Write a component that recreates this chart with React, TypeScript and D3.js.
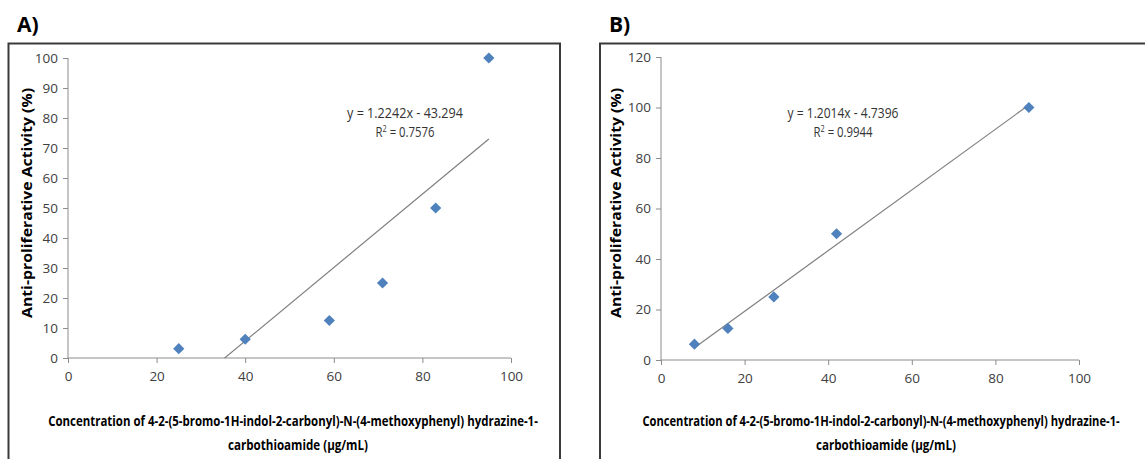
import React, { useEffect, useRef } from 'react';
import * as d3 from 'd3';

// panel A
const concA = [25, 40, 59, 71, 83, 95];
const activityA = [3.125, 6.25, 12.5, 25, 50, 100];
const fitA = { slope: 1.2242, intercept: -43.294, r2: '0.7576' };
const yTicksA = [0, 10, 20, 30, 40, 50, 60, 70, 80, 90, 100];

// panel B
const concB = [8, 16, 27, 42, 88];
const activityB = [6.25, 12.5, 25, 50, 100];
const fitB = { slope: 1.2014, intercept: -4.7396, r2: '0.9944' };
const yTicksB = [0, 20, 40, 60, 80, 100, 120];

const xTicks = [0, 20, 40, 60, 80, 100];

const yLabel = 'Anti-proliferative Activity (%)';
const xLabel1 = 'Concentration of 4-2-(5-bromo-1H-indol-2-carbonyl)-N-(4-methoxyphenyl) hydrazine-1-';
const xLabel2 = 'carbothioamide (µg/mL)';

const font = "'Open Sans', sans-serif";

// squeeze a centred text horizontally to a given width (Calibri-like look)
function condensed(sel, cx, y, width) {
  const len = sel.node().getComputedTextLength();
  const k = len > 0 ? width / len : 1;
  sel.attr('text-anchor', 'middle')
    .attr('transform', `translate(${cx},${y}) scale(${k},1)`);
  return sel;
}

const App = () => {
  const ref = useRef(null);

  useEffect(() => {
    const svg = d3.select(ref.current);
    svg.selectAll('*').remove();

    const panels = [
      {
        id: 'A', title: 'A)', titleX: 17, box: [8.5, 560],
        x: d3.scaleLinear().domain([0, 100]).range([68, 511]),
        y: d3.scaleLinear().domain([0, 100]).range([358, 58]),
        yTicks: yTicksA, xs: concA, ys: activityA, fit: fitA,
        eqX: 405, eqW: 116, r2W: 59, yLabX: 27, xLabX: 293, xLabW: 490,
      },
      {
        id: 'B', title: 'B)', titleX: 609, box: [600, 1150],
        x: d3.scaleLinear().domain([0, 100]).range([661, 1079]),
        y: d3.scaleLinear().domain([0, 120]).range([360, 57]),
        yTicks: yTicksB, xs: concB, ys: activityB, fit: fitB,
        eqX: 843, eqW: 111, r2W: 59, yLabX: 616, xLabX: 881, xLabW: 478,
      },
    ];

    panels.forEach((p) => {
      const g = svg.append('g');

      // frame
      g.append('path')
        .attr('d', `M${p.box[0]},470V43.5H${p.box[1]}V470`)
        .attr('fill', 'none')
        .attr('stroke', '#3a3a3a')
        .attr('stroke-width', 2);

      g.append('text')
        .attr('x', p.titleX)
        .attr('y', 32)
        .attr('font-family', font)
        .attr('font-weight', 'bold')
        .attr('font-size', 21)
        .text(p.title);

      const [x0, x1] = p.x.range();
      const [y0, y1] = p.y.range();

      // axes
      const yAxis = g.append('g')
        .attr('transform', `translate(${x0},0)`)
        .call(d3.axisLeft(p.y).tickValues(p.yTicks).tickSize(5).tickPadding(5));
      const xAxis = g.append('g')
        .attr('transform', `translate(0,${y0})`)
        .call(d3.axisBottom(p.x).tickValues(xTicks).tickSize(5).tickPadding(8));
      [yAxis, xAxis].forEach((a) => {
        a.select('.domain').attr('stroke', '#8c8c8c').attr('d', null);
        a.selectAll('line').attr('stroke', '#8c8c8c');
        a.selectAll('text')
          .attr('fill', '#404040')
          .attr('font-family', font)
          .attr('font-size', 13.5);
      });
      g.append('line').attr('x1', x0).attr('x2', x0).attr('y1', y0).attr('y2', y1).attr('stroke', '#8c8c8c');
      g.append('line').attr('x1', x0).attr('x2', x1).attr('y1', y0).attr('y2', y0).attr('stroke', '#8c8c8c');

      // trendline, clipped to plot area
      const clipId = `clip${p.id}`;
      svg.append('clipPath').attr('id', clipId)
        .append('rect')
        .attr('x', x0).attr('y', y1)
        .attr('width', x1 - x0).attr('height', y0 - y1);
      const [minX, maxX] = d3.extent(p.xs);
      const fy = (v) => p.fit.slope * v + p.fit.intercept;
      g.append('line')
        .attr('clip-path', `url(#${clipId})`)
        .attr('x1', p.x(minX)).attr('y1', p.y(fy(minX)))
        .attr('x2', p.x(maxX)).attr('y2', p.y(fy(maxX)))
        .attr('stroke', '#7f7f7f')
        .attr('stroke-width', 1.2);

      // markers
      const sym = d3.symbol().type(d3.symbolDiamond2).size(80);
      g.selectAll('.pt')
        .data(p.xs.map((v, i) => [v, p.ys[i]]))
        .join('path')
        .attr('transform', (d) => `translate(${p.x(d[0])},${p.y(d[1])})`)
        .attr('d', sym)
        .attr('fill', '#4f81bd');

      // equation
      const sign = p.fit.intercept < 0 ? '-' : '+';
      const eq = g.append('text')
        .attr('font-family', font)
        .attr('font-size', 14)
        .attr('fill', '#333')
        .text(`y = ${p.fit.slope}x ${sign} ${Math.abs(p.fit.intercept)}`);
      condensed(eq, p.eqX, 118, p.eqW);
      const r = g.append('text')
        .attr('font-family', font)
        .attr('font-size', 14)
        .attr('fill', '#333');
      r.append('tspan').text('R');
      r.append('tspan').attr('font-size', 9).attr('dy', -5).text('2');
      r.append('tspan').attr('dy', 5).text(` = ${p.fit.r2}`);
      condensed(r, p.eqX, 137, p.r2W);

      // axis titles
      g.append('text')
        .attr('transform', `translate(${p.yLabX},203) rotate(-90)`)
        .attr('text-anchor', 'middle')
        .attr('dy', '0.35em')
        .attr('font-family', font)
        .attr('font-weight', 'bold')
        .attr('font-size', 15)
        .attr('textLength', 230)
        .attr('lengthAdjust', 'spacingAndGlyphs')
        .text(yLabel);
      const l1 = g.append('text')
        .attr('font-family', font)
        .attr('font-weight', 'bold')
        .attr('font-size', 13.5)
        .text(xLabel1);
      condensed(l1, p.xLabX, 426, p.xLabW);
      const l2 = g.append('text')
        .attr('font-family', font)
        .attr('font-weight', 'bold')
        .attr('font-size', 13.5)
        .text(xLabel2);
      condensed(l2, p.xLabX + 5, 450, 140);
    });
  }, []);

  return (
    <svg
      ref={ref}
      width={1145}
      height={459}
      style={{ position: 'absolute', left: 0, top: 0, background: '#fff' }}
    />
  );
};

export default App;
